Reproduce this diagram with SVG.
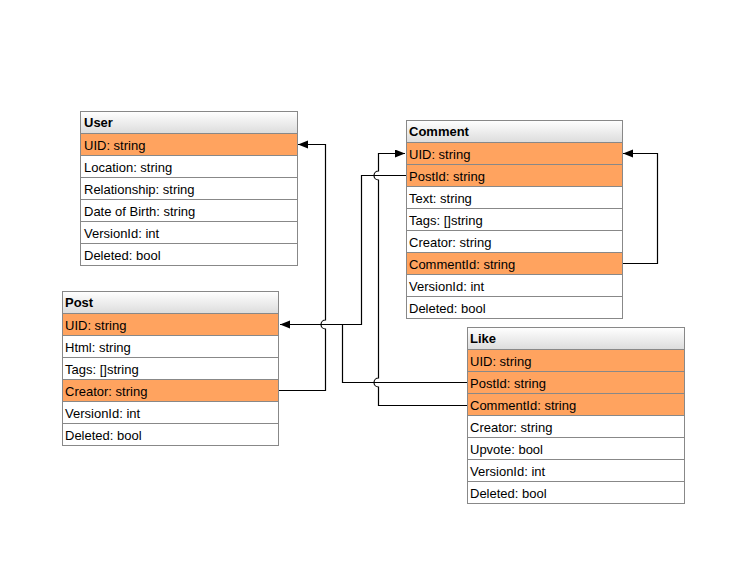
<svg xmlns="http://www.w3.org/2000/svg" width="733" height="576" viewBox="0 0 733 576">
<style>
.hdr{fill:url(#hg);stroke:#888;stroke-width:1}
.row{fill:#fff;stroke:#888;stroke-width:1}
.key{fill:#ffa35f;stroke:#888;stroke-width:1}
.t{font-family:"Liberation Sans",Arial,Helvetica,sans-serif;font-size:13px;fill:#000}
.b{font-weight:bold}
.c{fill:none;stroke:#000;stroke-width:1.2}
</style>
<defs>
<linearGradient id="hg" x1="0" y1="0" x2="0" y2="1">
<stop offset="0" stop-color="#ffffff"/>
<stop offset="1" stop-color="#dcdcdc"/>
</linearGradient>
<marker id="ah" markerUnits="userSpaceOnUse" markerWidth="12" markerHeight="10" refX="10" refY="4" orient="auto">
<path d="M0,0 L10,4 L0,8 z" fill="#000"/>
</marker>
</defs>
<rect width="733" height="576" fill="#fff"/>

<g id="connectors">
<path class="c" d="M279,390.5 H325.5 V329 A4.5,4.5 0 0 1 325.5,320 V144.5 H298" marker-end="url(#ah)"/>
<path class="c" d="M406,175.5 H361.5 V324.5 H280" marker-end="url(#ah)"/>
<path class="c" d="M467,382.5 H342.5 V324.5"/>
<path class="c" d="M467,405.5 H378.5 V387 A4.5,4.5 0 0 1 378.5,378 V180 A4.5,4.5 0 0 1 378.5,171 V153.5 H405" marker-end="url(#ah)"/>
<path class="c" d="M623,263.5 H657.5 V153.5 H623" marker-end="url(#ah)"/>
</g>

<g id="user">
<rect class="hdr" x="80.5" y="111.5" width="217" height="22"/>
<text class="t b" x="84" y="127">User</text>
<rect class="key" x="80.5" y="133.5" width="217" height="22"/>
<text class="t" x="84" y="149.5">UID: string</text>
<rect class="row" x="80.5" y="155.5" width="217" height="22"/>
<text class="t" x="84" y="171.5">Location: string</text>
<rect class="row" x="80.5" y="177.5" width="217" height="22"/>
<text class="t" x="84" y="193.5">Relationship: string</text>
<rect class="row" x="80.5" y="199.5" width="217" height="22"/>
<text class="t" x="84" y="215.5">Date of Birth: string</text>
<rect class="row" x="80.5" y="221.5" width="217" height="22"/>
<text class="t" x="84" y="237.5">VersionId: int</text>
<rect class="row" x="80.5" y="243.5" width="217" height="22"/>
<text class="t" x="84" y="259.5">Deleted: bool</text>
</g>

<g id="comment">
<rect class="hdr" x="406.5" y="120.5" width="216" height="22"/>
<text class="t b" x="409" y="136">Comment</text>
<rect class="key" x="406.5" y="142.5" width="216" height="22"/>
<text class="t" x="409" y="158.5">UID: string</text>
<rect class="key" x="406.5" y="164.5" width="216" height="22"/>
<text class="t" x="409" y="180.5">PostId: string</text>
<rect class="row" x="406.5" y="186.5" width="216" height="22"/>
<text class="t" x="409" y="202.5">Text: string</text>
<rect class="row" x="406.5" y="208.5" width="216" height="22"/>
<text class="t" x="409" y="224.5">Tags: []string</text>
<rect class="row" x="406.5" y="230.5" width="216" height="22"/>
<text class="t" x="409" y="246.5">Creator: string</text>
<rect class="key" x="406.5" y="252.5" width="216" height="22"/>
<text class="t" x="409" y="268.5">CommentId: string</text>
<rect class="row" x="406.5" y="274.5" width="216" height="22"/>
<text class="t" x="409" y="290.5">VersionId: int</text>
<rect class="row" x="406.5" y="296.5" width="216" height="22"/>
<text class="t" x="409" y="312.5">Deleted: bool</text>
</g>

<g id="post">
<rect class="hdr" x="62.5" y="291.5" width="216" height="22"/>
<text class="t b" x="65" y="307">Post</text>
<rect class="key" x="62.5" y="313.5" width="216" height="22"/>
<text class="t" x="65" y="329.5">UID: string</text>
<rect class="row" x="62.5" y="335.5" width="216" height="22"/>
<text class="t" x="65" y="351.5">Html: string</text>
<rect class="row" x="62.5" y="357.5" width="216" height="22"/>
<text class="t" x="65" y="373.5">Tags: []string</text>
<rect class="key" x="62.5" y="379.5" width="216" height="22"/>
<text class="t" x="65" y="395.5">Creator: string</text>
<rect class="row" x="62.5" y="401.5" width="216" height="22"/>
<text class="t" x="65" y="417.5">VersionId: int</text>
<rect class="row" x="62.5" y="423.5" width="216" height="22"/>
<text class="t" x="65" y="439.5">Deleted: bool</text>
</g>

<g id="like">
<rect class="hdr" x="467.5" y="327.5" width="217" height="22"/>
<text class="t b" x="470" y="343">Like</text>
<rect class="key" x="467.5" y="349.5" width="217" height="22"/>
<text class="t" x="470" y="365.5">UID: string</text>
<rect class="key" x="467.5" y="371.5" width="217" height="22"/>
<text class="t" x="470" y="387.5">PostId: string</text>
<rect class="key" x="467.5" y="393.5" width="217" height="22"/>
<text class="t" x="470" y="409.5">CommentId: string</text>
<rect class="row" x="467.5" y="415.5" width="217" height="22"/>
<text class="t" x="470" y="431.5">Creator: string</text>
<rect class="row" x="467.5" y="437.5" width="217" height="22"/>
<text class="t" x="470" y="453.5">Upvote: bool</text>
<rect class="row" x="467.5" y="459.5" width="217" height="22"/>
<text class="t" x="470" y="475.5">VersionId: int</text>
<rect class="row" x="467.5" y="481.5" width="217" height="22"/>
<text class="t" x="470" y="497.5">Deleted: bool</text>
</g>
</svg>
